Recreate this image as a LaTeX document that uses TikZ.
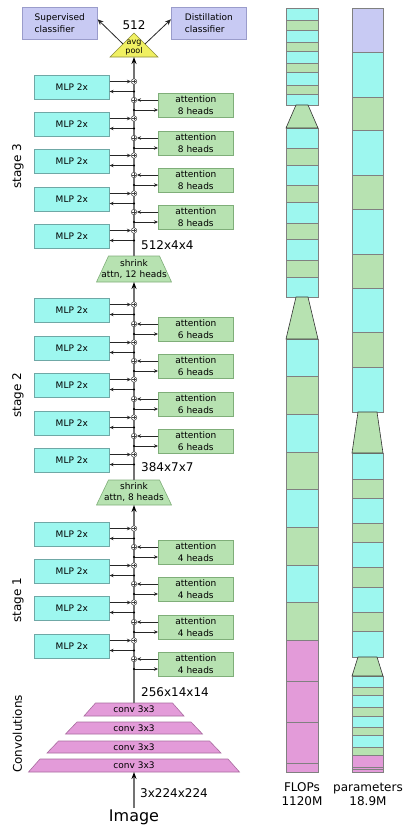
\documentclass[tikz,border=0pt]{standalone}
\usepackage{fontspec}
\setmainfont{DejaVu Sans}
\usetikzlibrary{arrows.meta,calc}
\newcommand\fsz[2]{\fontsize{#1}{#2}\selectfont}
\definecolor{cyf}{HTML}{9DF7EF}
\definecolor{cyd}{HTML}{6FA8A6}
\definecolor{grf}{HTML}{B7E2B1}
\definecolor{grd}{HTML}{7FAE79}
\definecolor{lvf}{HTML}{C8CAF3}
\definecolor{lvd}{HTML}{9A9CCB}
\definecolor{pkf}{HTML}{E39BD9}
\definecolor{pkd}{HTML}{A86C9F}
\definecolor{ylf}{HTML}{F0F062}
\definecolor{yld}{HTML}{8C8C3A}
\newcommand\mlpblk[2]{%
  \node[mlp, anchor=north west] (#1) at (34,#2) {MLP 2x};
  \node[sumc] (#1s) at (134,#2+6.5) {};
  \coordinate (#1d) at (134,#2+16.5);
  \draw[br] (#1.east |- #1s) -- (#1s);
  \draw[br] (#1d) -- (#1d -| #1.east);
  \fill (#1d) circle (1.1pt);
}
\newcommand\attblk[3]{%
  \node[att, anchor=north west] (#1) at (158,#2) {attention\\#3 heads};
  \node[sumc] (#1s) at (134,#2+7) {};
  \coordinate (#1d) at (134,#2+17);
  \draw[br] (#1.west |- #1s) -- (#1s);
  \draw[br] (#1d) -- (#1d -| #1.west);
  \fill (#1d) circle (1.1pt);
}
\begin{document}
\begin{tikzpicture}[x=1pt,y=-1pt,
  mlp/.style={draw=cyd, fill=cyf, line width=0.6pt, minimum width=75pt, minimum height=24pt, inner sep=0pt, font=\fsz{9}{11}},
  att/.style={draw=grd, fill=grf, line width=0.6pt, minimum width=75pt, minimum height=24pt, inner sep=0pt, align=center, font=\fsz{9}{11.5}},
  cls/.style={draw=lvd, fill=lvf, line width=0.6pt, minimum width=75pt, minimum height=32pt, inner sep=0pt, align=left, font=\fsz{9}{12}},
  sumc/.style={circle, draw=black!75, fill=white, line width=0.5pt, inner sep=0pt, minimum size=5.5pt,
    path picture={\draw[line width=0.4pt] ([xshift=-1.6pt]path picture bounding box.center) -- ([xshift=1.6pt]path picture bounding box.center);
                  \draw[line width=0.4pt] ([yshift=-1.6pt]path picture bounding box.center) -- ([yshift=1.6pt]path picture bounding box.center);}},
  br/.style={draw=black!85, line width=0.7pt, -{Stealth[length=4pt,width=3.5pt]}},
  mainl/.style={draw=black!55, line width=1.2pt, -{Stealth[length=7pt,width=5pt,black]}},
  clsarr/.style={draw=black!85, line width=0.8pt, -{Stealth[length=6pt,width=5pt]}},
  shr/.style={draw=grd, fill=grf, line width=0.6pt},
  cnv/.style={draw=pkd, fill=pkf, line width=0.6pt},
  lbl/.style={font=\fsz{12}{14}},
  txt9/.style={font=\fsz{9}{11}, align=center, inner sep=0pt},
  seg/.style={draw=black!50, line width=0.5pt},
  btrap/.style={draw=black!80, fill=grf, line width=0.6pt}
]
\useasboundingbox (0,0) rectangle (414,831);

% ---------- classifiers and pool ----------
\node[cls, anchor=north west] (sup) at (22,7) {Supervised\\classifier};
\node[cls, anchor=north west] (dis) at (171,7) {Distillation\\classifier};
\filldraw[draw=yld, fill=ylf, line width=0.6pt] (134,33) -- (158,57) -- (110,57) -- cycle;
\node[font=\fsz{8}{9}, align=center, inner sep=0pt] (pool) at (134,48) {avg\\pool};
\node[lbl, inner sep=0pt] (n512) at (134,25) {512};
\coordinate (pl) at (123,44);
\coordinate (pr) at (145,44);
\coordinate (poolb) at (134,57);
\draw[clsarr] (pl) -- ([yshift=4pt]sup.east);
\draw[clsarr] (pr) -- ([yshift=4pt]dis.west);

% ---------- shrink blocks ----------
\filldraw[shr] (108.5,256) -- (159.5,256) -- (171.5,282) -- (96.5,282) -- cycle;
\node[txt9] (sh2) at (134,269) {shrink\\attn, 12 heads};
\coordinate (sh2top) at (134,256);
\coordinate (sh2bot) at (134,282);
\filldraw[shr] (108.5,480) -- (159.5,480) -- (171.5,505) -- (96.5,505) -- cycle;
\node[txt9] (sh1) at (134,492.5) {shrink\\attn, 8 heads};
\coordinate (sh1top) at (134,480);
\coordinate (sh1bot) at (134,505);

% ---------- convolutions ----------
\filldraw[cnv] (95.5,703) -- (172.5,703) -- (184,716) -- (84,716) -- cycle;
\node[txt9] (cv1) at (134,709.5) {conv 3x3};
\filldraw[cnv] (77,722) -- (191,722) -- (202.5,734) -- (65.5,734) -- cycle;
\node[txt9] (cv2) at (134,728) {conv 3x3};
\filldraw[cnv] (58.5,741) -- (209.5,741) -- (221,753) -- (47,753) -- cycle;
\node[txt9] (cv3) at (134,747) {conv 3x3};
\filldraw[cnv] (40,759) -- (228,759) -- (239.5,772) -- (28.5,772) -- cycle;
\node[txt9] (cv4) at (134,765.5) {conv 3x3};
\coordinate (c1top) at (134,703);
\coordinate (c4bot) at (134,772);

% ---------- main line ----------
\draw[mainl] (c1top) -- (sh1bot);
\draw[mainl] (sh1top) -- (sh2bot);
\draw[mainl] (sh2top) -- (poolb);
\node[font=\fsz{16}{18}, inner sep=1pt] (img) at (134,817) {Image};
\draw[mainl] (img.north) -- (c4bot);

% ---------- stage 3 ----------
\foreach \t [count=\i] in {75,112,149,187,224} {\mlpblk{m3\i}{\t}}
\foreach \t [count=\i] in {93,131,168,205} {\attblk{a3\i}{\t}{8}}
% ---------- stage 2 ----------
\foreach \t [count=\i] in {298,336,373,411,448} {\mlpblk{m2\i}{\t}}
\foreach \t [count=\i] in {317,354,392,429} {\attblk{a2\i}{\t}{6}}
% ---------- stage 1 ----------
\foreach \t [count=\i] in {522,559,596,634} {\mlpblk{m1\i}{\t}}
\foreach \t [count=\i] in {540,577,615,652} {\attblk{a1\i}{\t}{4}}

% ---------- size labels ----------
\node[lbl, anchor=west, inner sep=0pt] (d3) at (141,245) {512x4x4};
\node[lbl, anchor=west, inner sep=0pt] (d2) at (141,467) {384x7x7};
\node[lbl, anchor=west, inner sep=0pt] (d1) at (141,692) {256x14x14};
\node[lbl, anchor=west, inner sep=0pt] (d0) at (140,793) {3x224x224};

% ---------- stage labels ----------
\node[lbl, rotate=90] (st3) at (18,166) {stage 3};
\node[lbl, rotate=90] (st2) at (18,395) {stage 2};
\node[lbl, rotate=90] (st1) at (18,600) {stage 1};
\node[lbl, rotate=90] (stc) at (17.5,734) {Convolutions};

% ---------- FLOPs bar ----------
\foreach \a/\b/\c in {8/20/cyf,20/30/grf,30/42/cyf,42/51/grf,51/63/cyf,63/72/grf,72/85/cyf,85/94/grf,94/105/cyf,
  128/148/cyf,148/165/grf,165/185/cyf,185/202/grf,202/223/cyf,223/239/grf,239/260/cyf,260/277/grf,277/297/cyf,
  339/376/cyf,376/414/grf,414/452/cyf,452/489/grf,489/527/cyf,527/565/grf,565/602/cyf,602/640/grf,
  640/681/pkf,681/722/pkf,722/763/pkf,763/772/pkf}
  {\filldraw[seg, fill=\c] (286,\a) rectangle (318,\b);}
\filldraw[btrap] (296,105) -- (308,105) -- (318,128) -- (286,128) -- cycle;
\filldraw[btrap] (296,297) -- (308,297) -- (318,339) -- (286,339) -- cycle;

% ---------- parameters bar ----------
\foreach \a/\b/\c in {8/52/lvf,52/97/cyf,97/130/grf,130/175/cyf,175/209/grf,209/254/cyf,254/288/grf,288/332/cyf,332/367/grf,367/412/cyf,
  453/479/cyf,479/498/grf,498/523/cyf,523/542/grf,542/567/cyf,567/587/grf,587/612/cyf,612/631/grf,631/657/cyf,
  676/687/cyf,687/695/grf,695/707/cyf,707/716/grf,716/727/cyf,727/735/grf,735/747/cyf,747/755/grf,
  755/767/pkf,767/769.5/pkf,769.5/772/pkf}
  {\filldraw[seg, fill=\c] (352,\a) rectangle (383,\b);}
\filldraw[btrap] (358,412) -- (377,412) -- (383,453) -- (352,453) -- cycle;
\filldraw[btrap] (358,657) -- (377,657) -- (383,676) -- (352,676) -- cycle;

\node[lbl, align=center, inner sep=0pt] (flops) at (302,794) {FLOPs\\1120M};
\node[lbl, align=center, inner sep=0pt] (params) at (368,794) {parameters\\18.9M};
\end{tikzpicture}
\end{document}
